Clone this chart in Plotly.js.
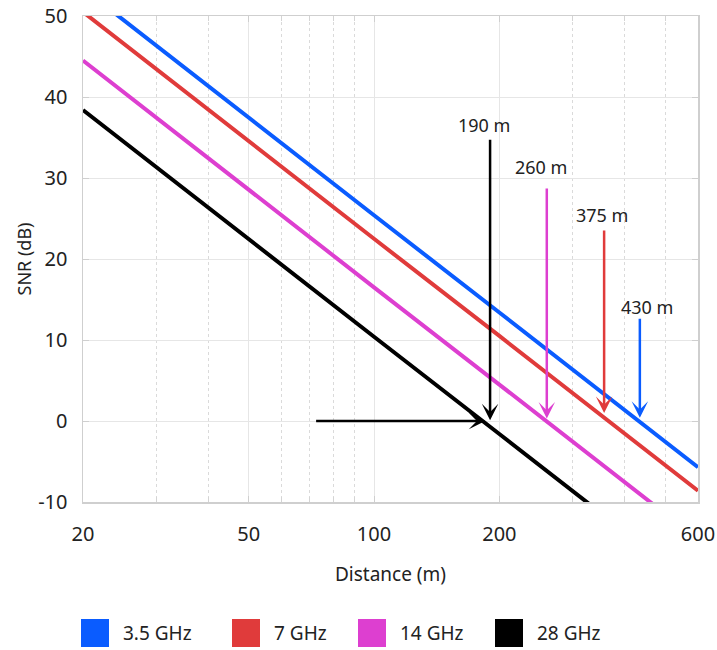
<!DOCTYPE html>
<html>
<head>
<meta charset="utf-8">
<script src="https://cdn.plot.ly/plotly-3.0.1.min.js"></script>
<style>html,body{margin:0;padding:0;background:#fff;}#chart{width:717px;height:650px;}</style>
</head>
<body>
<div id="chart"></div>
<script>
// ---- data ----
const seriesNames = ['3.5 GHz', '7 GHz', '14 GHz', '28 GHz'];
const seriesColors = ['#0a5cff', '#e03b3b', '#dd3fd0', '#000000'];
const distance = [20, 50, 100, 200, 600];
const snr35 = [53.4, 37.4, 25.4, 13.4, -5.7];
const snr7 = [50.5, 34.5, 22.5, 10.5, -8.6];
const snr14 = [44.5, 28.5, 16.5, 4.5, -14.6];
const snr28 = [38.4, 22.4, 10.4, -1.6, -20.7];
const seriesValues = [snr35, snr7, snr14, snr28];

// range markers (vertical arrows)
const arrowLabels = ['190 m', '260 m', '375 m', '430 m'];
const arrowColors = ['#000000', '#dd3fd0', '#e03b3b', '#0a5cff'];
const arrowDist = [190, 260, 357, 435];
const arrowTail = [34.9, 28.9, 23.7, 12.8];
const arrowTip = [0.1, 0.3, 1.0, 0.4];
const labelDist = [184, 252, 353, 452];
const labelSnr = [36.5, 31.4, 25.4, 14.1];
// horizontal 0 dB arrow
const hArrowFrom = 72, hArrowTo = 185, hArrowSnr = 0;

const xTicks = [20, 50, 100, 200, 600];
const xMinor = [30, 40, 60, 70, 80, 90, 300, 400, 500];
const yTicks = [-10, 0, 10, 20, 30, 40, 50];
const yTickText = ['-10', '0', '10', '20', '30', '40', '50'];

// ---- traces ----
const traces = seriesValues.map((v, i) => ({
  type: 'scatter', mode: 'lines', name: seriesNames[i],
  x: distance, y: v,
  line: {color: seriesColors[i], width: 4},
  showlegend: false, hoverinfo: 'skip'
}));

const L = Math.log10;
const annotations = [];
arrowDist.forEach((d, i) => {
  annotations.push({
    x: L(d), y: arrowTip[i], ax: L(d), ay: arrowTail[i],
    xref: 'x', yref: 'y', axref: 'x', ayref: 'y',
    text: '', showarrow: true, arrowhead: 3, arrowsize: 1.1,
    arrowwidth: 2.5, arrowcolor: arrowColors[i], standoff: 0, startstandoff: 0
  });
  annotations.push({
    x: L(labelDist[i]), y: labelSnr[i], xref: 'x', yref: 'y',
    text: arrowLabels[i], showarrow: false,
    font: {family: 'Noto Sans', size: 18, color: '#222'}
  });
});
annotations.push({
  x: L(hArrowTo), y: hArrowSnr, ax: L(hArrowFrom), ay: hArrowSnr,
  xref: 'x', yref: 'y', axref: 'x', ayref: 'y',
  text: '', showarrow: true, arrowhead: 3, arrowsize: 1.1,
  arrowwidth: 2.5, arrowcolor: '#000', standoff: 0, startstandoff: 0
});

// manual legend (large square swatches)
const plotL = 83, plotW = 615, plotB = 502, plotH = 486;
const px = x => (x - plotL) / plotW;
const py = y => (plotB - y) / plotH;
const legendX = [81, 232, 358, 495];
const shapes = [];
seriesNames.forEach((n, i) => {
  shapes.push({
    type: 'rect', xref: 'paper', yref: 'paper',
    x0: px(legendX[i]), x1: px(legendX[i] + 28), y0: py(647), y1: py(619),
    fillcolor: seriesColors[i], line: {width: 0}
  });
  annotations.push({
    xref: 'paper', yref: 'paper', x: px(legendX[i] + 40), y: py(633),
    xanchor: 'left', yanchor: 'middle', showarrow: false, text: n,
    font: {family: 'Noto Sans', size: 19, color: '#222'}
  });
});

const layout = {
  width: 717, height: 650,
  margin: {l: 83, r: 19, t: 16, b: 148},
  paper_bgcolor: '#fff', plot_bgcolor: '#fff',
  font: {family: 'Noto Sans', color: '#222'},
  showlegend: false,
  xaxis: {
    type: 'log', range: [L(20), L(600)],
    tickmode: 'array', tickvals: xTicks, ticktext: xTicks.map(String),
    tickfont: {size: 20, color: '#222'},
    showline: true, linecolor: '#cfcfcf', linewidth: 1.5, mirror: 'ticks',
    ticks: 'inside', ticklen: 6, tickcolor: '#cfcfcf',
    showgrid: true, gridcolor: '#e6e6e6', gridwidth: 1,
    zeroline: false, ticklabelstandoff: 13,
    minor: {tickmode: 'array', tickvals: xMinor, showgrid: true, griddash: 'dot',
            gridcolor: '#dadada', gridwidth: 1, ticks: 'inside', ticklen: 5, tickcolor: '#d4d4d4'},
    title: {text: 'Distance (m)', font: {size: 19, color: '#222'}, standoff: 22}
  },
  yaxis: {
    range: [-10, 50], tickmode: 'array', tickvals: yTicks, ticktext: yTickText,
    tickfont: {size: 20, color: '#222'},
    showline: true, linecolor: '#cfcfcf', linewidth: 1.5, mirror: 'ticks',
    ticks: 'inside', ticklen: 6, tickcolor: '#cfcfcf',
    showgrid: true, gridcolor: '#e6e6e6', gridwidth: 1,
    zeroline: false, ticklabelstandoff: 10,
    title: {text: 'SNR (dB)', font: {size: 18, color: '#222'}, standoff: 2}
  },
  annotations: annotations,
  shapes: shapes
};

Plotly.newPlot('chart', traces, layout, {displayModeBar: false, staticPlot: true});
</script>
</body>
</html>
